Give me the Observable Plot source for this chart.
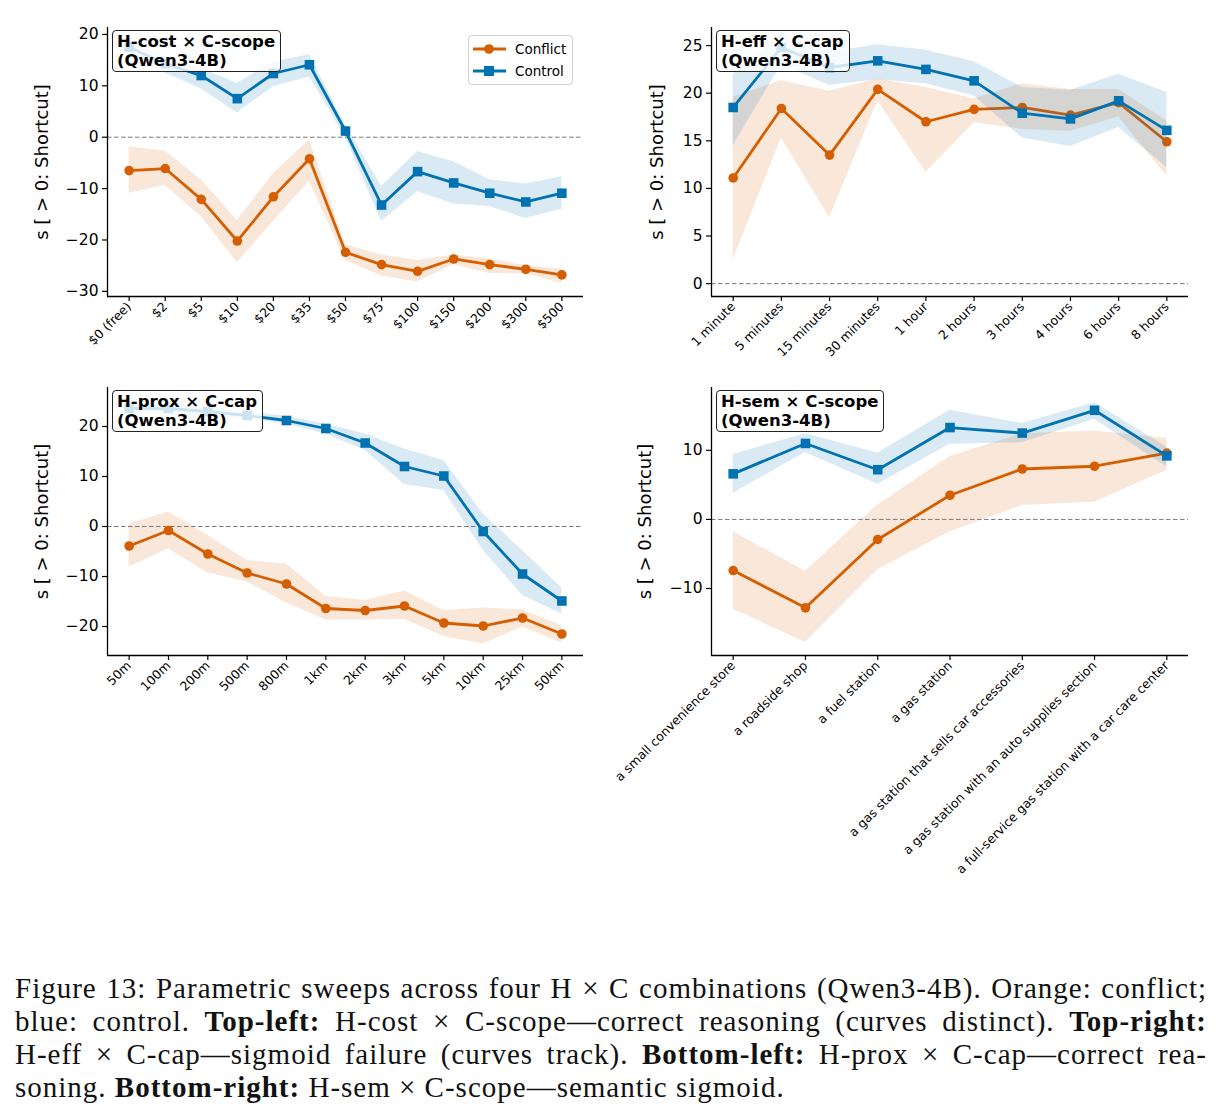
<!DOCTYPE html>
<html>
<head>
<meta charset="utf-8">
<script src="https://cdn.jsdelivr.net/npm/d3@7"></script>
<script src="https://cdn.jsdelivr.net/npm/@observablehq/plot@0.6"></script>
<style>
  body { margin: 0; background: #fff; }
  #fig { position: relative; width: 1223px; height: 1120px; background: #fff; font-family: "DejaVu Sans", sans-serif; overflow: hidden; }
  .panel { position: absolute; }
  .panel svg { overflow: visible; }
  .tag { position: absolute; font: bold 16.5px "DejaVu Sans", sans-serif; line-height: 18.5px; color: #000;
         border: 1.3px solid #222; border-radius: 4px; background: rgba(255,255,255,0.8);
         padding: 2px 5px 1px 4px; white-space: pre; }
  .legend { position: absolute; font: 13.5px "DejaVu Sans", sans-serif; color: #000;
            border: 1px solid #d0d0d0; border-radius: 4px; background: rgba(255,255,255,0.8);
            padding: 2px 6px 2px 4px; line-height: 22px; }
  .legend .row { display: flex; align-items: center; }
  .legend svg { margin-right: 9px; }
  #caption { position: absolute; left: 15px; top: 972px; width: 1192px;
             font: 29px "Liberation Serif", "Times New Roman", serif; letter-spacing: 1px; line-height: 33px; color: #111; }
  #caption div { text-align: justify; text-align-last: justify; white-space: nowrap; }
  #caption div.last { text-align-last: left; }
</style>
</head>
<body>
<div id="fig"></div>
<script>
// Palette
const ORANGE = "#d55e00";
const BLUE = "#0072b2";

// ---- H-cost × C-scope ----
const costLabels = ["$0 (free)", "$2", "$5", "$10", "$20", "$35", "$50", "$75", "$100", "$150", "$200", "$300", "$500"];
const costConflict   = [-6.5, -6.1, -12.1, -20.2, -11.6, -4.2, -22.4, -24.8, -26.1, -23.7, -24.8, -25.7, -26.8];
const costConflictLo = [-10.9, -9.4, -15.5, -24.4, -16.4, -8.5, -24.0, -27.0, -28.2, -24.8, -26.5, -26.6, -28.4];
const costConflictHi = [-1.9, -2.7, -8.3, -16.2, -7.1, -0.5, -21.0, -22.9, -24.0, -22.9, -23.7, -25.0, -25.7];
const costControl    = [17.5, 14.3, 12.0, 7.5, 12.4, 14.1, 1.2, -13.2, -6.7, -8.9, -10.9, -12.6, -10.9];
const costControlLo  = [16.0, 12.5, 9.4, 4.7, 9.8, 11.7, 0.0, -16.4, -10.6, -13.0, -13.5, -15.8, -14.0];
const costControlHi  = [19.0, 15.5, 13.3, 10.5, 14.6, 16.1, 2.3, -9.6, -2.8, -4.8, -8.3, -9.1, -7.7];
const costTicks = [-30, -20, -10, 0, 10, 20];

// ---- H-eff × C-cap ----
const effLabels = ["1 minute", "5 minutes", "15 minutes", "30 minutes", "1 hour", "2 hours", "3 hours", "4 hours", "6 hours", "8 hours"];
const effConflict   = [11.1, 18.4, 13.5, 20.4, 17.0, 18.3, 18.5, 17.7, 19.0, 14.9];
const effConflictLo = [2.5, 15.3, 6.9, 19.2, 11.7, 16.9, 16.2, 16.0, 17.5, 11.3];
const effConflictHi = [19.6, 21.3, 20.2, 21.5, 20.6, 19.4, 21.0, 20.4, 20.4, 17.1];
const effControl    = [18.5, 24.8, 22.7, 23.4, 22.5, 21.3, 17.9, 17.3, 19.2, 16.1];
const effControlLo  = [14.5, 23.0, 20.8, 21.4, 21.0, 19.7, 15.3, 14.4, 16.4, 12.2];
const effControlHi  = [22.0, 26.3, 24.3, 25.1, 24.5, 23.3, 20.6, 20.3, 22.0, 20.1];
const effTicks = [0, 5, 10, 15, 20, 25];

// ---- H-prox × C-cap ----
const proxLabels = ["50m", "100m", "200m", "500m", "800m", "1km", "2km", "3km", "5km", "10km", "25km", "50km"];
const proxConflict   = [-3.9, -0.8, -5.5, -9.3, -11.5, -16.4, -16.8, -15.9, -19.3, -19.9, -18.3, -21.5];
const proxConflictLo = [-8.1, -4.5, -9.3, -11.1, -15.3, -18.7, -18.7, -18.6, -22.0, -23.5, -20.1, -23.3];
const proxConflictHi = [0.5, 2.9, -1.8, -6.8, -7.5, -14.0, -14.8, -12.9, -16.8, -16.3, -16.7, -19.8];
const proxControl    = [23.6, 23.6, 23.0, 22.2, 21.2, 19.6, 16.7, 12.0, 10.1, -1.0, -9.5, -14.9];
const proxControlLo  = [22.6, 22.6, 22.0, 21.5, 20.5, 18.5, 15.2, 8.4, 7.2, -4.8, -13.8, -17.5];
const proxControlHi  = [24.6, 24.6, 24.0, 22.9, 22.0, 20.5, 18.5, 15.5, 13.2, 2.5, -4.8, -12.3];
const proxTicks = [-20, -10, 0, 10, 20];

// ---- H-sem × C-scope ----
const semLabels = ["a small convenience store", "a roadside shop", "a fuel station", "a gas station",
  "a gas station that sells car accessories", "a gas station with an auto supplies section",
  "a full-service gas station with a car care center"];
const semConflict   = [-7.4, -12.8, -2.9, 3.5, 7.3, 7.7, 9.6];
const semConflictLo = [-13.0, -17.8, -7.3, -1.8, 2.0, 2.5, 7.1];
const semConflictHi = [-1.8, -7.5, 2.1, 9.1, 12.4, 12.8, 11.7];
const semControl    = [6.6, 11.0, 7.2, 13.3, 12.5, 15.8, 9.2];
const semControlLo  = [3.8, 9.7, 5.1, 10.9, 11.1, 14.5, 7.6];
const semControlHi  = [9.4, 12.4, 9.6, 15.8, 13.9, 16.9, 10.5];
const semTicks = [-10, 0, 10];

const yLabel = "s [ > 0: Shortcut]";

const panels = [
  { title: "H-cost × C-scope\n(Qwen3-4B)", labels: costLabels,
    conflict: costConflict, conflictLo: costConflictLo, conflictHi: costConflictHi,
    control: costControl, controlLo: costControlLo, controlHi: costControlHi,
    yDomain: [-31.0, 21.35], yTicks: costTicks,
    left: 0, top: 0, width: 611, height: 370, mL: 107, mR: 28, mT: 27, mB: 74, labelDx: -65,
    tag: { left: 112, top: 30 } },
  { title: "H-eff × C-cap\n(Qwen3-4B)", labels: effLabels,
    conflict: effConflict, conflictLo: effConflictLo, conflictHi: effConflictHi,
    control: effControl, controlLo: effControlLo, controlHi: effControlHi,
    yDomain: [-1.35, 26.9], yTicks: effTicks,
    left: 611, top: 0, width: 612, height: 370, mL: 100, mR: 35, mT: 27, mB: 74, labelDx: -54,
    tag: { left: 716, top: 30 } },
  { title: "H-prox × C-cap\n(Qwen3-4B)", labels: proxLabels,
    conflict: proxConflict, conflictLo: proxConflictLo, conflictHi: proxConflictHi,
    control: proxControl, controlLo: proxControlLo, controlHi: proxControlHi,
    yDomain: [-25.8, 27.8], yTicks: proxTicks,
    left: 0, top: 360, width: 611, height: 560, mL: 107, mR: 28, mT: 27, mB: 265, labelDx: -65,
    tag: { left: 112, top: 390 } },
  { title: "H-sem × C-scope\n(Qwen3-4B)", labels: semLabels,
    conflict: semConflict, conflictLo: semConflictLo, conflictHi: semConflictHi,
    control: semControl, controlLo: semControlLo, controlHi: semControlHi,
    yDomain: [-19.7, 19.1], yTicks: semTicks,
    left: 611, top: 360, width: 612, height: 560, mL: 100, mR: 35, mT: 27, mB: 265, labelDx: -66,
    tag: { left: 716, top: 390 } }
];

const fig = document.getElementById("fig");

function drawPanel(cfg) {
  const n = cfg.labels.length;
  const pad = (n - 1) * 0.05;
  const xDomain = [-pad, n - 1 + pad];
  const rows = cfg.labels.map((label, i) => ({
    i, label,
    c: cfg.conflict[i], cLo: cfg.conflictLo[i], cHi: cfg.conflictHi[i],
    k: cfg.control[i], kLo: cfg.controlLo[i], kHi: cfg.controlHi[i]
  }));

  const chart = Plot.plot({
    width: cfg.width,
    height: cfg.height,
    marginLeft: cfg.mL, marginRight: cfg.mR, marginTop: cfg.mT, marginBottom: cfg.mB,
    x: { domain: xDomain, axis: null },
    y: { domain: cfg.yDomain, axis: null },
    style: { background: "transparent", color: "#000", fontFamily: "DejaVu Sans, sans-serif", overflow: "visible" },
    marks: [
      // conflict band and zero reference
      Plot.areaY(rows, { x: "i", y1: "cLo", y2: "cHi", fill: ORANGE, fillOpacity: 0.15 }),
      Plot.ruleY([0], { stroke: "#7a7a7a", strokeWidth: 1, strokeDasharray: "4.5,2.5" }),
      // conflict series
      Plot.line(rows, { x: "i", y: "c", stroke: ORANGE, strokeWidth: 2.8 }),
      Plot.dot(rows, { x: "i", y: "c", r: 4.8, fill: ORANGE, symbol: "circle" }),
      // control series
      Plot.areaY(rows, { x: "i", y1: "kLo", y2: "kHi", fill: BLUE, fillOpacity: 0.15 }),
      Plot.line(rows, { x: "i", y: "k", stroke: BLUE, strokeWidth: 2.8 }),
      Plot.dot(rows, { x: "i", y: "k", r: 5.4, fill: BLUE, symbol: "square" }),
      // left and bottom spines
      Plot.ruleX([xDomain[0]], { stroke: "#000", strokeWidth: 1.3 }),
      Plot.ruleY([cfg.yDomain[0]], { stroke: "#000", strokeWidth: 1.3 }),
      // axes
      Plot.axisY({ ticks: cfg.yTicks, tickSize: 5, tickPadding: 4, fontSize: 15.5, tickFormat: d3.format("d"), label: null, strokeWidth: 1.2 }),
      Plot.axisX({ ticks: d3.range(n), tickFormat: i => cfg.labels[i], tickRotate: -45, tickSize: 5, tickPadding: 3,
                   fontSize: 12.5, label: null, strokeWidth: 1.2 }),
      Plot.text([yLabel], { frameAnchor: "left", textAnchor: "middle", rotate: -90, dx: cfg.labelDx, fontSize: 18, fill: "#000" })
    ]
  });

  const wrap = document.createElement("div");
  wrap.className = "panel";
  wrap.style.left = cfg.left + "px";
  wrap.style.top = cfg.top + "px";
  wrap.appendChild(chart);
  fig.appendChild(wrap);

  const tag = document.createElement("div");
  tag.className = "tag";
  tag.style.left = cfg.tag.left + "px";
  tag.style.top = cfg.tag.top + "px";
  tag.textContent = cfg.title;
  fig.appendChild(tag);
}

panels.forEach(drawPanel);

// Legend for the top-left panel
const legend = document.createElement("div");
legend.className = "legend";
legend.style.left = "468px";
legend.style.top = "35px";
const entries = [
  { name: "Conflict", color: ORANGE, shape: "circle" },
  { name: "Control", color: BLUE, shape: "square" }
];
entries.forEach(e => {
  const row = document.createElement("div");
  row.className = "row";
  const marker = e.shape === "circle"
    ? `<circle cx="16" cy="6" r="4.8" fill="${e.color}"/>`
    : `<rect x="11" y="1" width="10" height="10" fill="${e.color}"/>`;
  row.innerHTML = `<svg width="33" height="12"><line x1="0" x2="33" y1="6" y2="6" stroke="${e.color}" stroke-width="2.8"/>${marker}</svg><span>${e.name}</span>`;
  legend.appendChild(row);
});
fig.appendChild(legend);

// Caption
const caption = document.createElement("div");
caption.id = "caption";
caption.innerHTML = `
<div>Figure 13: Parametric sweeps across four H × C combinations (Qwen3-4B). Orange: conflict;</div>
<div>blue: control. <b>Top-left:</b> H-cost × C-scope—correct reasoning (curves distinct). <b>Top-right:</b></div>
<div>H-eff × C-cap—sigmoid failure (curves track). <b>Bottom-left:</b> H-prox × C-cap—correct rea-</div>
<div class="last">soning. <b>Bottom-right:</b> H-sem × C-scope—semantic sigmoid.</div>`;
fig.appendChild(caption);
</script>
</body>
</html>
